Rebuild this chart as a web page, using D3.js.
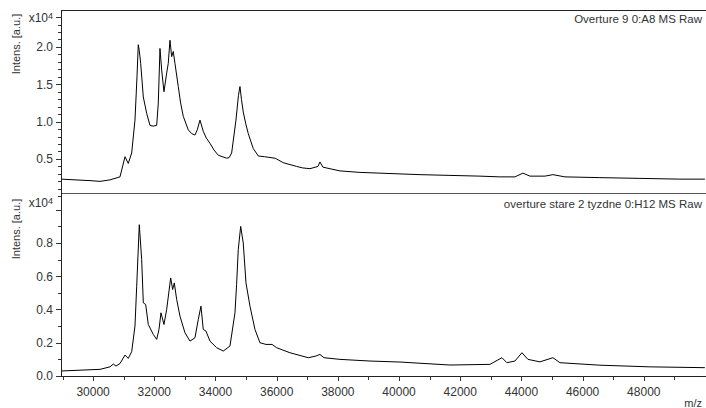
<!DOCTYPE html>
<html><head><meta charset="utf-8">
<script src="https://cdn.jsdelivr.net/npm/d3@7"></script>
<style>body{margin:0;background:#fff}svg{display:block}text{font-family:Arial,"Liberation Sans",sans-serif;fill:#333}</style>
</head><body><svg id="c" width="706" height="408"></svg>
<script>
// Spectrum 1: Overture 9 0:A8 MS Raw  (intensity x10^4)
const topMz  = [28950,29408,29898,30225,30551,30878,31042,31149,31260,31368,31434,31476,31509,31555,31640,31751,31859,31957,32078,32130,32185,32241,32316,32404,32456,32512,32567,32620,32675,32783,32860,32947,33110,33220,33329,33404,33493,33600,33700,33819,33950,34090,34365,34450,34528,34669,34750,34800,34848,34907,34990,35071,35234,35398,35600,35780,35950,36215,36653,36850,37087,37349,37414,37512,38068,38722,39375,40029,40683,41663,42643,43297,43787,44048,44278,44768,45029,45421,46565,47872,49179,49996];
const topInt = [0.23,0.22,0.21,0.20,0.22,0.26,0.53,0.44,0.58,1.02,1.60,2.03,1.95,1.78,1.33,1.11,0.95,0.94,0.95,1.25,1.98,1.69,1.40,1.65,1.78,2.09,1.87,1.94,1.78,1.47,1.25,1.07,0.89,0.84,0.82,0.89,1.02,0.87,0.78,0.71,0.62,0.55,0.51,0.52,0.58,1.02,1.35,1.47,1.30,1.13,0.97,0.84,0.64,0.54,0.53,0.52,0.51,0.45,0.40,0.38,0.37,0.40,0.46,0.39,0.34,0.32,0.31,0.30,0.29,0.28,0.27,0.26,0.26,0.31,0.27,0.27,0.29,0.26,0.25,0.24,0.23,0.23];
// Spectrum 2: overture stare 2 tyzdne 0:H12 MS Raw
const botMz  = [28950,29571,30225,30551,30659,30747,30878,31042,31149,31260,31368,31424,31509,31587,31640,31718,31803,31966,32078,32153,32218,32316,32404,32535,32600,32653,32731,32839,33002,33166,33329,33437,33525,33600,33689,33819,34038,34254,34473,34636,34690,34744,34823,34907,34996,35127,35290,35453,35650,35850,36000,36433,37032,37283,37414,37545,38068,39048,40029,41663,42970,43362,43525,43787,44016,44212,44604,45029,45258,46565,48199,49996];
const botInt = [0.030,0.035,0.040,0.055,0.072,0.060,0.075,0.126,0.106,0.146,0.30,0.54,0.91,0.70,0.44,0.43,0.31,0.25,0.22,0.28,0.38,0.31,0.40,0.59,0.52,0.56,0.46,0.36,0.26,0.21,0.23,0.34,0.42,0.28,0.27,0.21,0.17,0.15,0.18,0.38,0.55,0.76,0.90,0.80,0.56,0.42,0.28,0.20,0.19,0.19,0.17,0.14,0.11,0.12,0.13,0.11,0.10,0.09,0.084,0.066,0.07,0.11,0.08,0.09,0.14,0.10,0.085,0.11,0.08,0.065,0.055,0.05];

const xTicksMajor = [30000,32000,34000,36000,38000,40000,42000,44000,46000,48000];
const xTicksMinor = [29000,31000,33000,35000,37000,39000,41000,43000,45000,47000,49000];
const topTicksMajor = [0.5,1.0,1.5,2.0];
const botTicksMajor = [0.0,0.2,0.4,0.6,0.8];
const panelLabels = ["Overture 9 0:A8 MS Raw","overture stare 2 tyzdne 0:H12 MS Raw"];

const svg = d3.select("#c");
const L = 61, R = 706, T1 = 10, B1 = 193, B2 = 376;
const x = d3.scaleLinear().domain([28950, 50000]).range([L, 705]);
const yTop = d3.scaleLinear().domain([0, 2.5]).range([196.3, 9.63]);
const yBot = d3.scaleLinear().domain([0, 1.1]).range([B2, 193.1]);

const defs = svg.append("defs");
defs.append("clipPath").attr("id","cp1").append("rect").attr("x",L).attr("y",T1).attr("width",R-L).attr("height",B1-T1);
defs.append("clipPath").attr("id","cp2").append("rect").attr("x",L).attr("y",B1).attr("width",R-L).attr("height",B2-B1);

function panel(mz, inten, y, clip, majors, minorMax, expVal, labelY, label, titleY) {
  const line = d3.line().x((d,i)=>x(mz[i])).y(d=>y(d));
  svg.append("path").datum(inten).attr("d", line).attr("fill","none")
    .attr("stroke","#000").attr("stroke-width",1).attr("clip-path","url(#"+clip+")");
  const minors = d3.range(0, Math.round(minorMax*10)+1).map(i=>i/10);
  const g = svg.append("g");
  g.selectAll("line.mn").data(minors.filter(v=>y(v)>=T1+2 && y(v)<=B2)).join("line")
    .attr("x1",L-3).attr("x2",L).attr("y1",d=>Math.round(y(d))+0.5).attr("y2",d=>Math.round(y(d))+0.5)
    .attr("stroke","#333");
  g.selectAll("line.mj").data(majors).join("line")
    .attr("x1",L-5).attr("x2",L).attr("y1",d=>Math.round(y(d))+0.5).attr("y2",d=>Math.round(y(d))+0.5)
    .attr("stroke","#333");
  g.selectAll("text.tl").data(majors).join("text")
    .attr("x",L-8).attr("y",d=>y(d)).attr("dy","0.36em").attr("text-anchor","end")
    .attr("font-size",12).text(d=>d.toFixed(1));
  g.append("line").attr("x1",L-5).attr("x2",L).attr("y1",Math.round(y(expVal))+0.5).attr("y2",Math.round(y(expVal))+0.5).attr("stroke","#333");
  const t = g.append("text").attr("x",L-8).attr("y",labelY).attr("dy","0.36em").attr("text-anchor","end").attr("font-size",12);
  t.append("tspan").text("x10");
  t.append("tspan").attr("dy","-0.4em").attr("font-size",9).text("4");
  svg.append("text").attr("transform","translate(20,"+titleY+") rotate(-90)")
    .attr("text-anchor","middle").attr("font-size",11).text("Intens. [a.u.]");
  svg.append("text").attr("x",702).attr("y",labelY+5)
    .attr("text-anchor","end").attr("font-size",11.5).text(label);
}

panel(topMz, topInt, yTop, "cp1", topTicksMajor, 2.4, 2.4, 18, panelLabels[0], 44);
panel(botMz, botInt, yBot, "cp2", botTicksMajor, 1.0, 1.0, 203, panelLabels[1], 229);

// frame lines
svg.append("line").attr("x1",L).attr("x2",R).attr("y1",T1+0.5).attr("y2",T1+0.5).attr("stroke","#222");
svg.append("line").attr("x1",L).attr("x2",R).attr("y1",B1+0.5).attr("y2",B1+0.5).attr("stroke","#555");
svg.append("line").attr("x1",L+0.5).attr("x2",L+0.5).attr("y1",T1).attr("y2",B2).attr("stroke","#222");
svg.append("line").attr("x1",L).attr("x2",R).attr("y1",B2+0.5).attr("y2",B2+0.5).attr("stroke","#222");

// x axis
const gx = svg.append("g");
gx.selectAll("line.mj").data(xTicksMajor).join("line")
  .attr("x1",d=>Math.round(x(d))+0.5).attr("x2",d=>Math.round(x(d))+0.5).attr("y1",B2).attr("y2",B2+5).attr("stroke","#333");
gx.selectAll("line.mn").data(xTicksMinor).join("line")
  .attr("x1",d=>Math.round(x(d))+0.5).attr("x2",d=>Math.round(x(d))+0.5).attr("y1",B2).attr("y2",B2+4).attr("stroke","#333");
gx.selectAll("text").data(xTicksMajor).join("text")
  .attr("x",d=>x(d)).attr("y",396).attr("text-anchor","middle").attr("font-size",12).text(d=>d);
svg.append("text").attr("x",702).attr("y",407).attr("text-anchor","end").attr("font-size",11).text("m/z");
</script></body></html>
